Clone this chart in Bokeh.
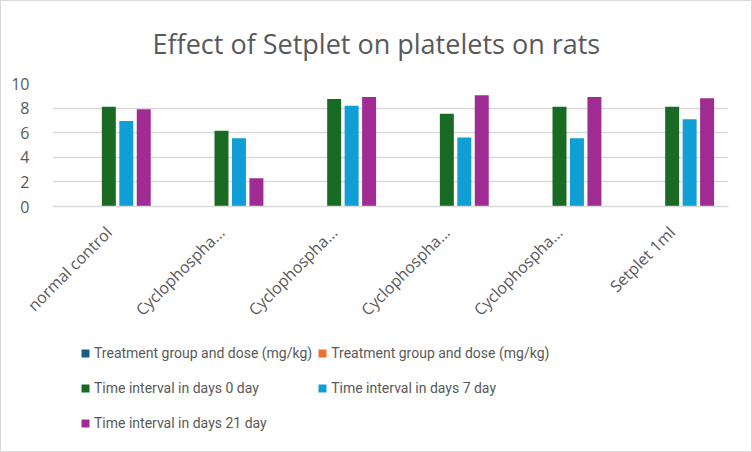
import math
from bokeh.plotting import figure
from bokeh.layouts import column
from bokeh.models import (ColumnDataSource, Range1d, FixedTicker, Legend, LegendItem)
from bokeh.transform import dodge
from bokeh.embed import file_html
from bokeh.resources import INLINE

categories = ["normal control", "Cyclophospha...", "Cyclophospha...",
              "Cyclophospha...", "Cyclophospha...", "Setplet 1ml"]
treatment_a = [0, 0, 0, 0, 0, 0]
treatment_b = [0, 0, 0, 0, 0, 0]
day_0 = [8.1, 6.15, 8.75, 7.55, 8.1, 8.1]
day_7 = [6.95, 5.55, 8.2, 5.6, 5.55, 7.1]
day_21 = [7.9, 2.3, 8.9, 9.05, 8.9, 8.8]
y_ticks = [0, 2, 4, 6, 8, 10]

series = [
    ("Treatment group and dose (mg/kg)", treatment_a, "#156082"),
    ("Treatment group and dose (mg/kg)", treatment_b, "#E97132"),
    ("Time interval in days 0 day", day_0, "#196B24"),
    ("Time interval in days 7 day", day_7, "#0F9ED5"),
    ("Time interval in days 21 day", day_21, "#A02B93"),
]

FONT = "Open Sans"
LEG_FONT = "Roboto"
GREY = "#595959"

idx = list(range(len(categories)))
data = {"x": idx}
for i, (_, vals, _) in enumerate(series):
    data[f"s{i}"] = vals
src = ColumnDataSource(data)

p = figure(width=750, height=337, output_backend="svg", toolbar_location=None,
           x_range=Range1d(-0.5, len(categories) - 0.5), y_range=Range1d(0, 10),
           min_border_left=51, min_border_right=23, min_border_top=77,
           min_border_bottom=132)

p.title.text = "Effect of Setplet on platelets on rats"
p.title.align = "left"
p.title.offset = 100
p.title.text_font = FONT
p.title.text_font_size = "27px"
p.title.text_font_style = "normal"
p.title.text_color = GREY
p.title.standoff = 43

offsets = [-0.31, -0.155, 0.0, 0.155, 0.31]
items = []
for i, (label, vals, color) in enumerate(series):
    p.vbar(x=dodge("x", offsets[i], range=p.x_range), top=f"s{i}", width=0.124,
           source=src, fill_color=color, line_color=None)

p.outline_line_color = None
p.background_fill_color = "white"
p.border_fill_color = "white"

p.xgrid.grid_line_color = None
p.ygrid.grid_line_color = "#d9d9d9"
p.ygrid.grid_line_width = 1.5

p.yaxis.ticker = FixedTicker(ticks=y_ticks)
p.yaxis.axis_line_color = None
p.yaxis.major_tick_line_color = None
p.yaxis.minor_tick_line_color = None
p.yaxis.major_label_standoff = 17
p.yaxis.major_label_text_font = FONT
p.yaxis.major_label_text_font_size = "16px"
p.yaxis.major_label_text_color = GREY

p.xaxis.ticker = FixedTicker(ticks=idx)
p.xaxis.major_label_overrides = {i: c for i, c in enumerate(categories)}
p.xaxis.major_label_orientation = math.pi / 4
p.xaxis.axis_line_color = "#d9d9d9"
p.xaxis.axis_line_width = 1.5
p.xaxis.major_tick_line_color = None
p.xaxis.minor_tick_line_color = None
p.xaxis.major_label_standoff = 17
p.xaxis.major_label_text_font = FONT
p.xaxis.major_label_text_font_size = "16px"
p.xaxis.major_label_text_color = GREY

# legend panel (its renderers lie outside its ranges, so only the legend shows)
p2 = figure(width=750, height=113, output_backend="svg", toolbar_location=None,
            x_range=Range1d(100, 101), y_range=Range1d(100, 101),
            x_axis_location=None, y_axis_location=None,
            min_border=0, min_border_left=0, min_border_right=0,
            min_border_top=0, min_border_bottom=0)
p2.outline_line_color = None
p2.xgrid.grid_line_color = None
p2.ygrid.grid_line_color = None
p2.background_fill_color = "white"
p2.border_fill_color = "white"
for i, (label, vals, color) in enumerate(series):
    r = p2.vbar(x="x", top=f"s{i}", width=0.124,
                source=src, fill_color=color, line_color=None)
    items.append(LegendItem(label=label, renderers=[r]))

legend = Legend(items=items, orientation="horizontal", ncols=2,
                location=(28, 13))
legend.label_text_font = LEG_FONT
legend.label_text_font_size = "14px"
legend.label_text_color = GREY
legend.glyph_width = 10
legend.glyph_height = 10
legend.label_standoff = 4
legend.label_height = 30
legend.spacing = 5
legend.padding = 0
legend.margin = 0
legend.border_line_color = None
legend.background_fill_alpha = 0
p2.add_layout(legend)

layout = column(p, p2, spacing=0)
layout.styles = {"border": "1px solid #d9d9d9"}

open("out.html", "w").write(file_html(layout, INLINE))
